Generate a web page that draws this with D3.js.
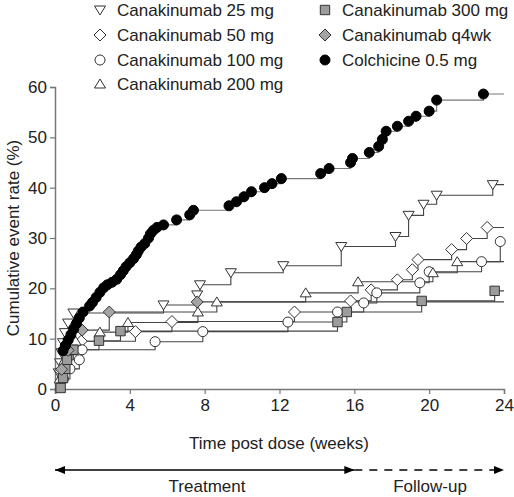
<!DOCTYPE html>
<html><head><meta charset="utf-8">
<script src="https://cdn.jsdelivr.net/npm/d3@7"></script>
<style>body{margin:0;background:#fff}svg{display:block}text{font-family:"Liberation Sans",Arial,sans-serif}</style>
</head><body><svg id="c" width="514" height="497"></svg>
<script>
// ---- data (week, cumulative event rate %) ----
const colchicine = [[0.43,7.6],[0.55,8.6],[0.7,9.7],[0.85,10.8],[1.0,11.9],[1.15,13.0],[1.3,14.1],[1.5,15.3],[1.85,16.5],[2.0,17.2],[2.2,18.2],[2.4,19.2],[2.6,20.1],[2.8,20.7],[3.05,21.2],[3.3,21.8],[3.5,22.7],[3.65,23.5],[3.8,24.3],[4.0,25.1],[4.2,25.9],[4.35,26.7],[4.45,27.4],[4.6,28.2],[4.8,28.9],[5.0,30.0],[5.1,30.8],[5.25,31.5],[5.45,32.1],[5.8,32.6],[6.5,33.6],[7.2,34.6],[7.4,35.5],[9.3,36.4],[9.7,37.2],[10.1,38.2],[10.5,39.2],[11.2,40.0],[11.6,40.8],[12.1,41.8],[14.2,42.8],[14.65,43.8],[15.8,45.0],[15.9,45.8],[16.8,47.0],[17.3,48.2],[17.5,49.6],[17.7,51.2],[18.3,52.2],[18.9,53.2],[19.3,54.2],[20.0,55.2],[20.4,57.4],[22.9,58.6]];
const cana25 = [[0.2,3.2],[0.27,5.2],[0.35,7.2],[0.43,9.2],[0.53,11.2],[0.7,13.1],[0.98,15.1],[5.8,16.7],[7.6,18.7],[7.75,20.7],[9.4,23.1],[12.2,24.5],[15.3,28.3],[18.2,30.3],[18.9,34.5],[19.7,36.7],[20.4,38.5],[23.4,40.6]];
const cana50 = [[0.3,3.6],[0.75,7.5],[1.4,9.5],[4.3,11.4],[6.25,13.4],[12.8,15.3],[15.8,17.5],[16.9,19.7],[18.3,21.7],[19.1,23.7],[19.4,25.7],[21.2,27.7],[22.0,29.9],[23.1,32.1]];
const cana100 = [[0.45,2.0],[0.8,4.0],[1.3,5.8],[1.45,7.8],[5.35,9.4],[7.9,11.4],[12.45,13.3],[15.1,15.3],[16.5,17.1],[17.2,19.1],[19.5,21.1],[20.0,23.3],[22.8,25.3],[23.8,29.3]];
const cana200 = [[0.25,2.0],[0.5,5.7],[0.9,7.6],[1.1,9.5],[2.4,11.3],[3.9,13.2],[7.64,15.3],[8.65,17.3],[13.4,19.1],[16.2,21.3],[20.2,23.1],[21.5,25.3]];
const cana300 = [[0.3,0.2],[0.43,2.2],[0.55,4.0],[0.64,5.8],[0.98,7.8],[2.35,9.6],[3.5,11.5],[15.1,13.3],[15.6,15.3],[19.6,17.5],[23.5,19.5]];
const canaQ4wk = [[0.35,3.9],[0.7,7.7],[1.45,11.7],[2.9,15.3],[7.6,17.3]];

const seriesNames = ["Canakinumab 25 mg","Canakinumab 50 mg","Canakinumab 100 mg","Canakinumab 200 mg","Canakinumab 300 mg","Canakinumab q4wk","Colchicine 0.5 mg"];
const xTicks = [0,4,8,12,16,20,24];
const yTicks = [0,10,20,30,40,50,60];
const phaseLabels = ["Treatment","Follow-up"];
const phaseBounds = [0,16,24];

// ---- drawing ----
const svg = d3.select("#c");
const x = d3.scaleLinear().domain([0,24]).range([55,504]);
const y = d3.scaleLinear().domain([0,60]).range([389,87]);

const shapes = {
  tdown: "M-5.5,-4 L5.5,-4 L0,5 Z",
  tup: "M-5.5,4 L5.5,4 L0,-5 Z",
  diamond: "M0,-6 L6,0 L0,6 L-6,0 Z",
  square: "M-4.7,-4.7 L4.7,-4.7 L4.7,4.7 L-4.7,4.7 Z",
  circle: d3.symbol().type(d3.symbolCircle).size(Math.PI*25)()
};
const series = [
  {name:seriesNames[0], data:cana25, shape:"tdown", fill:"#fff"},
  {name:seriesNames[1], data:cana50, shape:"diamond", fill:"#fff"},
  {name:seriesNames[2], data:cana100, shape:"circle", fill:"#fff"},
  {name:seriesNames[3], data:cana200, shape:"tup", fill:"#fff"},
  {name:seriesNames[4], data:cana300, shape:"square", fill:"#9c9c9c"},
  {name:seriesNames[5], data:canaQ4wk, shape:"diamond", fill:"#a4a4a4"},
  {name:seriesNames[6], data:colchicine, shape:"circle", fill:"#000"}
];

// axes
const axisColor = "#777";
const yAxis = svg.append("g").attr("transform","translate(55,0)")
  .call(d3.axisLeft(y).tickValues(yTicks).tickSize(5).tickPadding(3));
const xAxis = svg.append("g").attr("transform","translate(0,389)")
  .call(d3.axisBottom(x).tickValues(xTicks).tickSize(5).tickPadding(5));
[xAxis,yAxis].forEach(g=>{
  g.select(".domain").attr("stroke",axisColor).attr("stroke-width",1.5);
  g.selectAll(".tick line").attr("stroke",axisColor).attr("stroke-width",1.2);
  g.selectAll(".tick text").attr("font-size",17).attr("fill","#222").attr("font-family","Liberation Sans, Arial, sans-serif");
});

svg.append("text").attr("x",279).attr("y",449).attr("text-anchor","middle")
  .attr("font-size",17).attr("fill","#222").text("Time post dose (weeks)");
svg.append("text").attr("transform","translate(19,238) rotate(-90)").attr("text-anchor","middle")
  .attr("font-size",17).attr("fill","#222").text("Cumulative event rate (%)");

// step lines
const line = d3.line().x(d=>x(d[0])).y(d=>y(d[1])).curve(d3.curveStepAfter);
series.forEach(s=>{
  const pts = [[0,0]].concat(s.data).concat([[24, s.data[s.data.length-1][1]]]);
  svg.append("path").attr("d",line(pts)).attr("fill","none")
    .attr("stroke", s.shape==="circle"&&s.fill==="#000" ? "#777" : "#444").attr("stroke-width",1.1);
});
// markers
series.forEach(s=>{
  svg.append("g").selectAll("path").data(s.data).join("path")
    .attr("d",shapes[s.shape])
    .attr("transform",d=>`translate(${x(d[0])},${y(d[1])})`)
    .attr("fill",s.fill).attr("stroke", s.fill==="#000"?"#000":"#333").attr("stroke-width",1);
});

// legend
const legPos = [[100,10],[100,35],[100,60],[100,84],[325,10],[325,35],[325,60]];
series.forEach((s,i)=>{
  const [lx,ly] = legPos[i];
  svg.append("path").attr("d",shapes[s.shape]).attr("transform",`translate(${lx},${ly})`)
    .attr("fill",s.fill).attr("stroke",s.fill==="#000"?"#000":"#333").attr("stroke-width",1);
  svg.append("text").attr("x",lx+17).attr("y",ly+6).attr("font-size",17).attr("fill","#222").text(s.name);
});

// treatment / follow-up arrows
const ay = 470;
const defs = svg.append("defs");
defs.append("marker").attr("id","ah").attr("viewBox","0 0 10 8").attr("refX",10).attr("refY",4)
  .attr("markerWidth",10).attr("markerHeight",8).attr("markerUnits","userSpaceOnUse").attr("orient","auto-start-reverse")
  .append("path").attr("d","M0,0 L10,4 L0,8 Z").attr("fill","#000");
svg.append("line").attr("x1",x(phaseBounds[0])).attr("x2",x(phaseBounds[1])).attr("y1",ay).attr("y2",ay)
  .attr("stroke","#000").attr("stroke-width",1.3).attr("marker-start","url(#ah)").attr("marker-end","url(#ah)");
svg.append("line").attr("x1",x(phaseBounds[1])).attr("x2",x(phaseBounds[2])).attr("y1",ay).attr("y2",ay)
  .attr("stroke","#000").attr("stroke-width",1.3).attr("stroke-dasharray","8,7").attr("marker-end","url(#ah)");
svg.append("text").attr("x",207).attr("y",492).attr("text-anchor","middle").attr("font-size",17).attr("fill","#222").text(phaseLabels[0]);
svg.append("text").attr("x",430).attr("y",492).attr("text-anchor","middle").attr("font-size",17).attr("fill","#222").text(phaseLabels[1]);
</script></body></html>
